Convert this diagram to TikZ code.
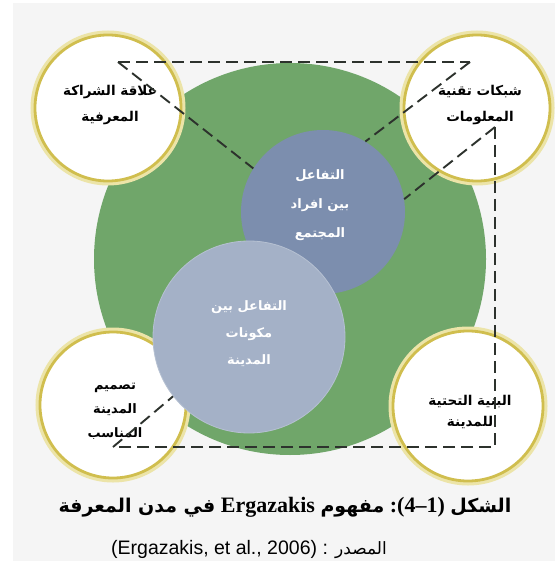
\documentclass[tikz,border=0pt]{standalone}
\usepackage{fontspec}
\setmainfont{Liberation Serif}
\newfontfamily\arab[Script=Arabic]{DejaVu Sans}
\newfontfamily\lsans{Liberation Sans}
\TeXXeTstate=1
\definecolor{bgc}{RGB}{245,245,245}
\definecolor{greenc}{RGB}{112,166,106}
\definecolor{darkc}{RGB}{124,142,174}
\definecolor{lightc}{RGB}{164,177,199}
\definecolor{ringc}{RGB}{208,190,78}
\definecolor{ringglow}{RGB}{236,228,168}
\definecolor{dashc}{RGB}{45,50,45}
\tikzset{
  ringcircle/.style={circle, fill=white, draw=ringc, line width=2.8pt, inner sep=0pt,
    preaction={draw=ringglow, line width=9pt}},
  bluecircle/.style={circle, inner sep=0pt},
  blacklabel/.style={align=center, text=black, font=\arab\bfseries\fontsize{13.5}{26}\selectfont},
  whitelabel/.style={align=center, text=white, font=\arab\bfseries\fontsize{13}{29}\selectfont},
  frame/.style={draw=dashc, line width=1.9pt, dash pattern=on 12pt off 6pt},
}
\begin{document}
\begin{tikzpicture}[x=1pt,y=-1pt]
\useasboundingbox (0,0) rectangle (555,561);
\fill[white] (0,0) rectangle (555,561);
\fill[bgc] (13,3) rectangle (555,561);

% big green circle
\node[circle, fill=greenc, minimum size=392pt, inner sep=0pt] (green) at (290,259) {};

% yellow-rimmed circles
\node[ringcircle, minimum size=146pt] (tl) at (108,108) {};
\node[ringcircle, minimum size=146pt] (tr) at (477,108) {};
\node[ringcircle, minimum size=146pt] (bl) at (113,405) {};
\node[ringcircle, minimum size=150pt] (br) at (468,406) {};

% inner circles
\node[bluecircle, fill=darkc, minimum size=164pt] (dark) at (323,212) {};
\node[bluecircle, fill=lightc, minimum size=192pt, draw=lightc!80!white, line width=0.8pt] (light) at (249,337) {};

% labels
\node[blacklabel] (tltext) at (110,105) {\beginR علاقة الشراكة\endR\\ \beginR المعرفية\endR};
\node[blacklabel] (trtext) at (480,105) {\beginR شبكات تقنية\endR\\ \beginR المعلومات\endR};
\node[blacklabel, font=\arab\bfseries\fontsize{13}{24}\selectfont] (bltext) at (115,411) {\beginR تصميم\endR\\ \beginR المدينة\endR\\ \beginR المناسب\endR};
\node[blacklabel, font=\arab\bfseries\fontsize{13.5}{21}\selectfont] (brtext) at (470,412) {\beginR البنية التحتية\endR\\ \beginR للمدينة\endR};
\node[whitelabel] (darktext) at (320,205) {\beginR التفاعل\endR\\ \beginR بين افراد\endR\\ \beginR المجتمع\endR};
\node[whitelabel, font=\arab\bfseries\fontsize{13}{27}\selectfont] (lighttext) at (249,334) {\beginR التفاعل بين\endR\\ \beginR مكونات\endR\\ \beginR المدينة\endR};

% dashed frame
\coordinate (A) at (118,62);
\coordinate (B) at (470,62);
\coordinate (E) at (495,127);
\coordinate (G) at (495,447);
\coordinate (H) at (113,447);
\draw[frame] (A) -- (B);
\draw[frame] (A) -- (dark.148);
\draw[frame] (B) -- (dark.59);
\draw[frame] (E) -- (dark.9);
\draw[frame] (E) -- (G) -- (H);
\draw[frame] (H) -- (light.218);

% caption
\node[font=\bfseries\fontsize{22}{26}\selectfont, anchor=center] (caption) at (285,507)
  {{\arab\fontsize{19}{24}\selectfont\beginR في مدن المعرفة\endR}\ Ergazakis\ {\arab\fontsize{19}{24}\selectfont\beginR مفهوم\endR}\ :(4–1)\ {\arab\fontsize{19}{24}\selectfont\beginR الشكل\endR}};
\node[font=\lsans\fontsize{19.5}{22}\selectfont, anchor=base] (source) at (249,554)
  {(Ergazakis, et al., 2006) : {\arab\fontsize{17}{20}\selectfont\beginR المصدر\endR}};
\end{tikzpicture}
\end{document}
